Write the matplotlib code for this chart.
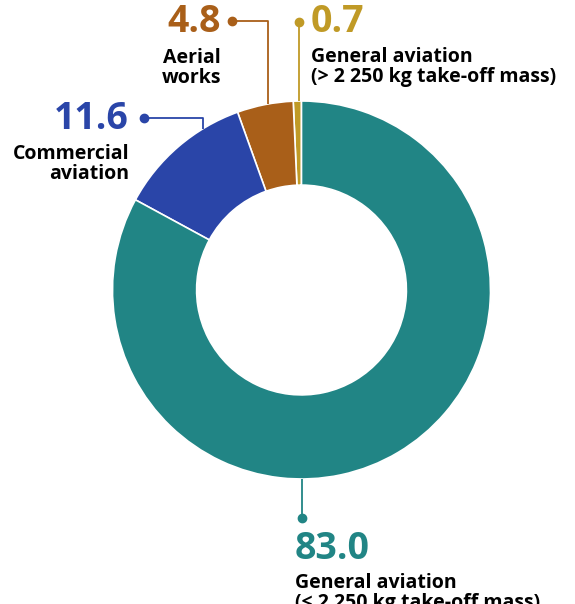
import matplotlib.pyplot as plt
import numpy as np

# Data (share of accidents, %), counter-clockwise from 12 o'clock
labels = ['General aviation\n(> 2 250 kg take-off mass)', 'Aerial\nworks',
          'Commercial\naviation', 'General aviation\n(\u2264 2 250 kg take-off mass)']
values = [0.7, 4.8, 11.6, 83.0]
colors = ['#C09A26', '#A95F19', '#2A45A8', '#218585']

plt.rcParams['font.family'] = ['Open Sans', 'DejaVu Sans']

W, H = 575, 604
fig = plt.figure(figsize=(W / 100, H / 100), dpi=100)
ax = fig.add_axes([0, 0, 1, 1])

cx, cy, R = 301.5, H - 290, 189
wedges, _ = ax.pie(values, colors=colors, startangle=90, counterclock=True,
                   center=(cx, cy), radius=R, frame=True,
                   wedgeprops=dict(width=R * 0.445, edgecolor='white', linewidth=1.2))
ax.set_xlim(0, W)
ax.set_ylim(0, H)
ax.set_aspect('equal')
ax.axis('off')


def py(y):
    return H - y


def ring_y(x, top=True):
    d = np.sqrt(R ** 2 - (x - cx) ** 2)
    return cy + d if top else cy - d


# leader lines: (x of vertical, dot x, dot y, top?)
leaders = [
    (298.5, 298.5, py(22), True),
    (268, 232, py(21), True),
    (203, 144, py(118), True),
    (301.5, 301.5, py(518), False),
]
for (vx, dx, dy, top), c in zip(leaders, colors):
    ax.plot([dx, vx, vx], [dy, dy, ring_y(vx, top)], color=c, lw=1.3,
            solid_capstyle='butt', zorder=1)
    ax.plot(dx, dy, 'o', color=c, ms=6, zorder=3)

# value labels and captions: (x, y number, y caption, ha)
pos = [
    (311, 22, 67, 'left'),
    (221, 22, 68, 'right'),
    (129, 119, 164, 'right'),
    (295, 549, 593, 'left'),
]
for v, lab, c, (x, yn, yc, ha) in zip(values, labels, colors, pos):
    ax.text(x, py(yn), f'{v:.1f}', color=c, fontsize=27, fontweight='bold',
            ha=ha, va='center')
    ax.text(x, py(yc), lab, color='black', fontsize=14, fontweight='bold',
            ha=ha, va='center', linespacing=1.05)

fig.savefig('out.png', dpi=100, facecolor='white')
